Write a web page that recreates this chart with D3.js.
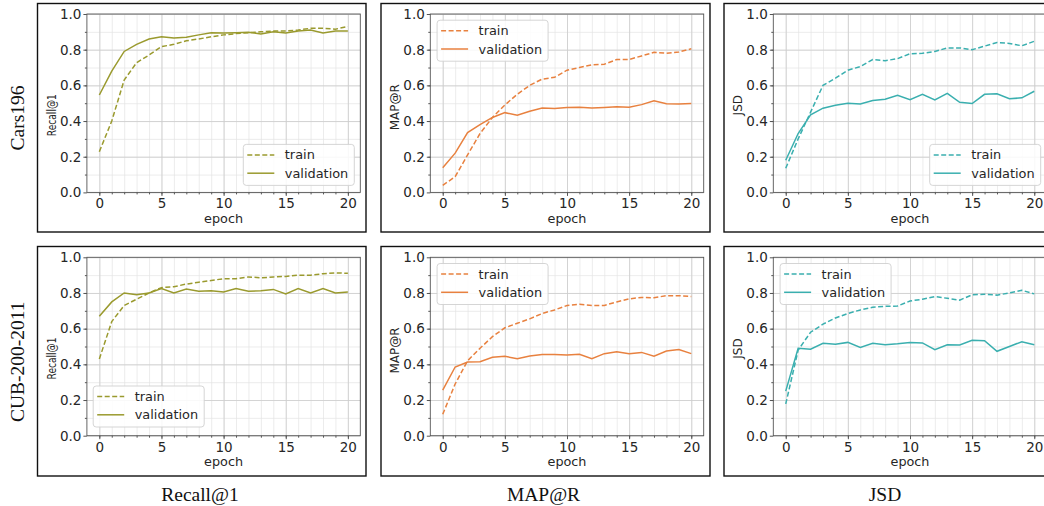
<!DOCTYPE html>
<html>
<head>
<meta charset="utf-8">
<script src="https://cdn.jsdelivr.net/npm/d3@7"></script>
<style>
  body { margin: 0; background: #fff; }
  svg { display: block; }
</style>
</head>
<body>
<script>
// ---- data ----
var epochs = [0,1,2,3,4,5,6,7,8,9,10,11,12,13,14,15,16,17,18,19,20]
var xTicks = [0,5,10,15,20]
var yTicks = [0,0.2,0.4,0.6,0.8,1.0]
var yMinorTicks = [0.1,0.2,0.3,0.4,0.5,0.6,0.7,0.8,0.9]
var rowNames = ['Cars196', 'CUB-200-2011']
var columnNames = ['Recall@1', 'MAP@R', 'JSD']
var yLabels = ['Recall@1', 'MAP@R', 'JSD']
var seriesNames = ['train', 'validation']

// Cars196
var carsRecallTrain = [0.228,0.40,0.63,0.727,0.77,0.817,0.83,0.85,0.86,0.872,0.883,0.89,0.895,0.90,0.905,0.905,0.91,0.92,0.92,0.915,0.93]
var carsRecallVal   = [0.546,0.68,0.79,0.83,0.86,0.873,0.865,0.87,0.883,0.895,0.893,0.895,0.897,0.888,0.90,0.893,0.905,0.91,0.893,0.905,0.905]
var carsMapTrain    = [0.04,0.088,0.21,0.33,0.42,0.49,0.55,0.60,0.635,0.645,0.685,0.70,0.715,0.718,0.745,0.745,0.765,0.785,0.78,0.787,0.805]
var carsMapVal      = [0.138,0.22,0.335,0.38,0.42,0.447,0.432,0.455,0.473,0.47,0.476,0.477,0.473,0.476,0.48,0.478,0.492,0.513,0.497,0.495,0.498]
var carsJsdTrain    = [0.135,0.30,0.45,0.60,0.64,0.685,0.705,0.745,0.738,0.75,0.777,0.78,0.79,0.81,0.81,0.80,0.82,0.84,0.835,0.822,0.847]
var carsJsdVal      = [0.18,0.33,0.435,0.472,0.488,0.50,0.495,0.515,0.522,0.545,0.52,0.55,0.518,0.555,0.505,0.498,0.55,0.553,0.525,0.53,0.567]

// CUB-200-2011
var cubRecallTrain = [0.43,0.64,0.73,0.765,0.80,0.83,0.835,0.85,0.86,0.87,0.88,0.88,0.89,0.885,0.89,0.893,0.90,0.90,0.908,0.913,0.91]
var cubRecallVal   = [0.67,0.75,0.80,0.79,0.80,0.825,0.80,0.822,0.81,0.813,0.805,0.825,0.81,0.812,0.82,0.795,0.825,0.80,0.825,0.80,0.805]
var cubMapTrain    = [0.12,0.29,0.42,0.49,0.555,0.605,0.63,0.655,0.685,0.705,0.73,0.737,0.73,0.73,0.75,0.767,0.775,0.773,0.785,0.785,0.78]
var cubMapVal      = [0.255,0.385,0.413,0.415,0.44,0.445,0.432,0.447,0.455,0.455,0.452,0.457,0.432,0.46,0.47,0.46,0.467,0.445,0.475,0.483,0.46]
var cubJsdTrain    = [0.178,0.48,0.58,0.625,0.66,0.685,0.705,0.72,0.725,0.727,0.755,0.765,0.78,0.77,0.76,0.79,0.793,0.788,0.80,0.815,0.795]
var cubJsdVal      = [0.25,0.49,0.485,0.518,0.512,0.523,0.495,0.518,0.51,0.515,0.523,0.52,0.482,0.51,0.508,0.535,0.532,0.473,0.50,0.527,0.51]

var olive = '#9a9a2e', orange = '#e8813f', teal = '#3aafaf'

var panels = [
  [
    {train: carsRecallTrain, val: carsRecallVal, color: olive,  legend: 'lr'},
    {train: carsMapTrain,    val: carsMapVal,    color: orange, legend: 'ul'},
    {train: carsJsdTrain,    val: carsJsdVal,    color: teal,   legend: 'lr'}
  ],
  [
    {train: cubRecallTrain, val: cubRecallVal, color: olive,  legend: 'll'},
    {train: cubMapTrain,    val: cubMapVal,    color: orange, legend: 'ul'},
    {train: cubJsdTrain,    val: cubJsdVal,    color: teal,   legend: 'ul'}
  ]
]

// ---- layout ----
var width = 1044, height = 506
var colLeft = [86.9, 430.3, 773.3], rowTop = [14, 257.3]
var plotW = 273.4, plotH = 178.4
var frameX = [[37.5, 366], [381, 710], [724, 1052]]
var frameY = [[3.5, 232], [246.5, 476]]
var ylabelShift = [12, 4, 2]   // the y labels sit a bit below the axes centre
var sansFont = '"DejaVu Sans", sans-serif'
var serifFont = '"Liberation Serif", "Times New Roman", serif'

var svg = d3.select('body').append('svg')
  .attr('width', width)
  .attr('height', height)

svg.append('rect').attr('width', width).attr('height', height).attr('fill', '#fff')

// outer black frames
frameY.forEach(function(fy) {
  frameX.forEach(function(fx) {
    svg.append('rect')
      .attr('x', fx[0]).attr('y', fy[0])
      .attr('width', fx[1] - fx[0]).attr('height', fy[1] - fy[0])
      .attr('fill', 'none').attr('stroke', '#111').attr('stroke-width', 1.4)
  })
})

function gridStyle(sel, color, w) {
  sel.select('.domain').remove()
  sel.selectAll('.tick line').attr('stroke', color).attr('stroke-width', w)
}

function drawPanel(r, c, p) {
  var g = svg.append('g')
    .attr('transform', 'translate(' + colLeft[c] + ',' + rowTop[r] + ')')

  var x = d3.scaleLinear().domain([-1, 21]).range([0, plotW])
  var y = d3.scaleLinear().domain([0, 1]).range([plotH, 0])

  // minor grid
  g.append('g')
    .attr('transform', 'translate(0,' + plotH + ')')
    .call(d3.axisBottom(x).tickValues(epochs).tickSize(-plotH).tickFormat(''))
    .call(gridStyle, '#e4e4e4', 0.7)
  g.append('g')
    .call(d3.axisLeft(y).tickValues(yMinorTicks).tickSize(-plotW).tickFormat(''))
    .call(gridStyle, '#e4e4e4', 0.7)
  // major grid
  g.append('g')
    .attr('transform', 'translate(0,' + plotH + ')')
    .call(d3.axisBottom(x).tickValues(xTicks).tickSize(-plotH).tickFormat(''))
    .call(gridStyle, '#cdcdcd', 0.8)
  g.append('g')
    .call(d3.axisLeft(y).tickValues(yTicks).tickSize(-plotW).tickFormat(''))
    .call(gridStyle, '#cdcdcd', 0.8)

  var line = d3.line()
    .x(function(d, i) { return x(epochs[i]) })
    .y(function(d) { return y(d) })

  g.append('path').datum(p.train)
    .attr('d', line).attr('fill', 'none')
    .attr('stroke', p.color).attr('stroke-width', 1.5)
    .attr('stroke-dasharray', '5,2.5')
  g.append('path').datum(p.val)
    .attr('d', line).attr('fill', 'none')
    .attr('stroke', p.color).attr('stroke-width', 1.5)

  // spines
  g.append('rect')
    .attr('width', plotW).attr('height', plotH)
    .attr('fill', 'none').attr('stroke', '#555').attr('stroke-width', 0.9)

  // minor tick marks
  g.append('g')
    .attr('transform', 'translate(0,' + plotH + ')')
    .call(d3.axisBottom(x).tickValues(epochs).tickSize(2).tickFormat(''))
    .call(function(s) { s.select('.domain').remove(); s.selectAll('line').attr('stroke', '#555') })
  g.append('g')
    .call(d3.axisLeft(y).tickValues(yMinorTicks).tickSize(2).tickFormat(''))
    .call(function(s) { s.select('.domain').remove(); s.selectAll('line').attr('stroke', '#555') })

  // major ticks + labels
  var xa = g.append('g')
    .attr('transform', 'translate(0,' + plotH + ')')
    .call(d3.axisBottom(x).tickValues(xTicks).tickSize(3.5).tickPadding(3).tickFormat(d3.format('d')))
  var ya = g.append('g')
    .call(d3.axisLeft(y).tickValues(yTicks).tickSize(3.5).tickPadding(2).tickFormat(d3.format('.1f')))
  ;[xa, ya].forEach(function(a) {
    a.select('.domain').remove()
    a.selectAll('line').attr('stroke', '#555')
    a.selectAll('text').attr('fill', '#262626')
      .style('font-family', sansFont).style('font-size', '13.5px')
  })

  // axis labels
  g.append('text')
    .attr('x', plotW / 2).attr('y', plotH + 30.5)
    .attr('text-anchor', 'middle')
    .style('font-family', sansFont).style('font-size', '12.8px').attr('fill', '#262626')
    .text('epoch')
  var yl = g.append('text')
    .attr('transform', 'translate(-31,' + (plotH / 2 + ylabelShift[c]) + ') rotate(-90)')
    .attr('text-anchor', 'middle')
    .style('font-family', sansFont).style('font-size', '12px').attr('fill', '#262626')
    .text(yLabels[c])
  if (c === 0) yl.attr('textLength', 42).attr('lengthAdjust', 'spacingAndGlyphs')

  // legend
  var lw = 111, lh = 41
  var lx, ly
  if (p.legend === 'lr') { lx = plotW - 6 - lw; ly = plotH - 7 - lh }
  else if (p.legend === 'll') { lx = 6.3; ly = plotH - 8.7 - lh }
  else { lx = 6.8; ly = 6.2 }
  var lg = g.append('g').attr('transform', 'translate(' + lx + ',' + ly + ')')
  lg.append('rect')
    .attr('width', lw).attr('height', lh).attr('rx', 3)
    .attr('fill', '#fff').attr('fill-opacity', 0.85)
    .attr('stroke', '#d0d0d0').attr('stroke-width', 0.9)
  seriesNames.forEach(function(name, i) {
    var yy = 10.5 + i * 18.3
    lg.append('line')
      .attr('x1', 4).attr('x2', 31).attr('y1', yy).attr('y2', yy)
      .attr('stroke', p.color).attr('stroke-width', 1.5)
      .attr('stroke-dasharray', i === 0 ? '5,2.5' : null)
    lg.append('text')
      .attr('x', 41.5).attr('y', yy).attr('dy', '0.35em')
      .style('font-family', sansFont).style('font-size', '12.9px').attr('fill', '#262626')
      .text(name)
  })
}

panels.forEach(function(row, r) {
  row.forEach(function(p, c) { drawPanel(r, c, p) })
})

// row titles (left) and column titles (bottom)
var rowCentres = [118, 361.7]
rowNames.forEach(function(name, r) {
  svg.append('text')
    .attr('transform', 'translate(24,' + rowCentres[r] + ') rotate(-90)')
    .attr('text-anchor', 'middle')
    .style('font-family', serifFont).style('font-size', '19.5px').attr('fill', '#111')
    .text(name)
})
var colCentres = [200, 543.5, 885]
columnNames.forEach(function(name, c) {
  svg.append('text')
    .attr('x', colCentres[c]).attr('y', 501)
    .attr('text-anchor', 'middle')
    .style('font-family', serifFont).style('font-size', '19.5px').attr('fill', '#111')
    .text(name)
})
</script>
</body>
</html>
